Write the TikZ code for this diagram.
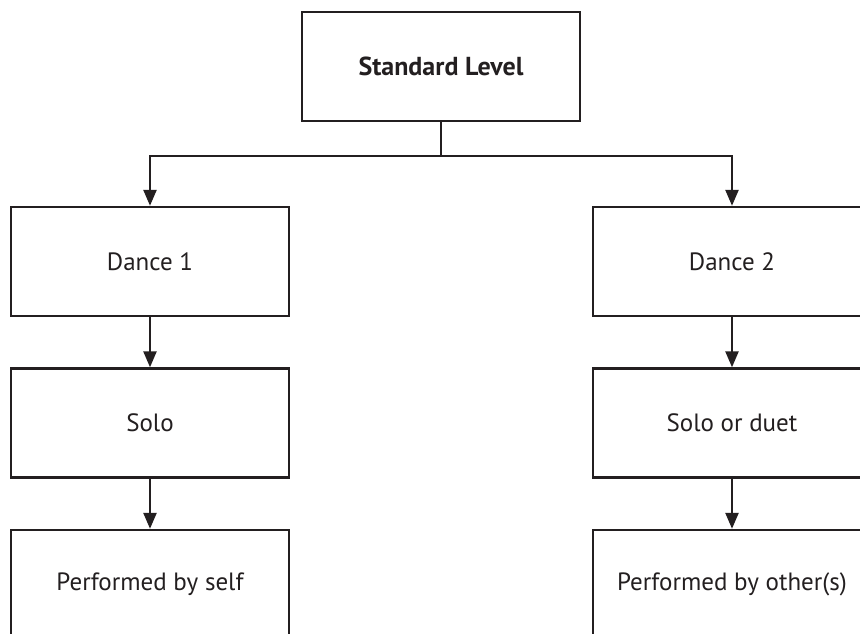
\documentclass[tikz,border=0pt]{standalone}
\usepackage{fontspec}
\setmainfont{PT Sans}
\usetikzlibrary{arrows.meta}
\definecolor{ink}{HTML}{231F20}
\begin{document}
\begin{tikzpicture}[x=1pt,y=-1pt,
  box/.style={draw=ink,line width=2.4pt,fill=white,minimum width=278pt,minimum height=109pt,inner sep=0pt,font=\fontsize{25}{29}\selectfont,text=ink},
  conn/.style={draw=ink,line width=2.4pt},
  arr/.style={conn,-{Triangle[length=16pt,width=13pt]}}]
\useasboundingbox (0,0) rectangle (860,634);
\clip (0,0) rectangle (860,634);
\fill[white] (0,0) rectangle (860,634);
\node[box,font=\fontsize{26}{30}\selectfont\bfseries] (top) at (441,66.5) {Standard Level};
\node[box] (d1) at (150,261.5) {Dance 1};
\node[box] (d2) at (732,261.5) {Dance 2};
\node[box] (s1) at (150,423) {Solo};
\node[box] (s2) at (732,423) {Solo or duet};
\node[box] (p1) at (150,584.5) {Performed by self};
\node[box] (p2) at (732,584.5) {Performed by other(s)};
\coordinate (j) at (441,156);
\draw[conn] (top.south) -- (j);
\draw[arr] (j) -| (d1.north);
\draw[arr] (j) -| (d2.north);
\draw[arr] (d1) -- (s1);
\draw[arr] (d2) -- (s2);
\draw[arr] (s1) -- (p1);
\draw[arr] (s2) -- (p2);
\end{tikzpicture}
\end{document}
